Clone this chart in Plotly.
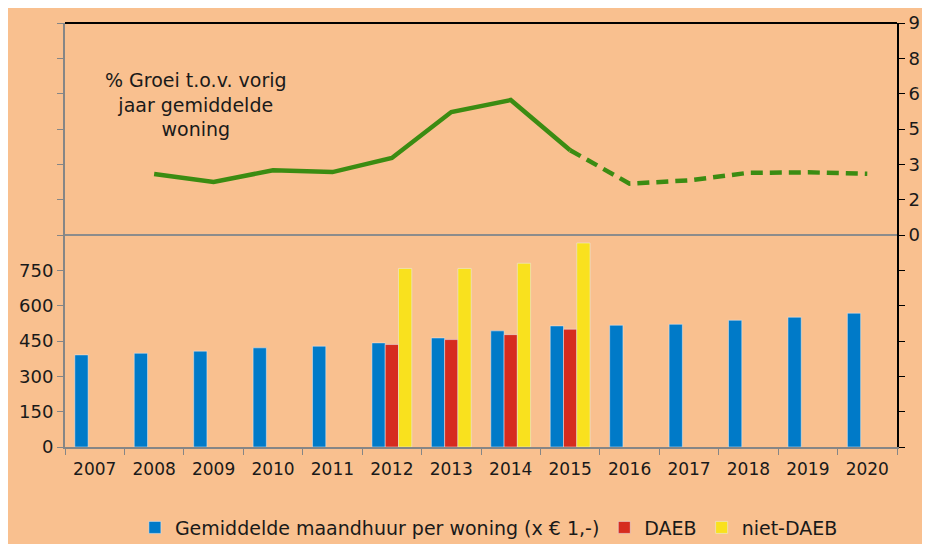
import plotly.graph_objects as go

years = [str(y) for y in range(2007, 2021)]

# gemiddelde maandhuur per woning (x EUR 1,-)
huur_gemiddeld = [391, 398, 407, 421, 428, 442, 463, 493, 514, 517, 521, 538, 551, 568]
huur_daeb = [None, None, None, None, None, 435, 456, 477, 500, None, None, None, None, None]
huur_niet_daeb = [None, None, None, None, None, 758, 758, 780, 866, None, None, None, None, None]

# % groei t.o.v. vorig jaar (realisatie en prognose)
groei_realisatie = [None, 2.59, 2.25, 2.75, 2.67, 3.27, 5.22, 5.73, 3.6, None, None, None, None, None]
groei_prognose = [None, None, None, None, None, None, None, None, 3.6, 2.18, 2.32, 2.64, 2.66, 2.60]

left_ticks = list(range(0, 1801, 150))
left_labels = [str(v) if v <= 750 else "" for v in left_ticks]
right_ticks = [i * 1.5 for i in range(-6, 7)]
right_labels = ["" if v < 0 else str(int(v + 0.5)) for v in right_ticks]

BG = "#F9C08F"
GRAY = "#868686"
GREEN = "#3B8C12"
FONT = "DejaVu Sans"

fig = go.Figure()

fig.add_trace(go.Bar(x=years, y=huur_gemiddeld, name="Gemiddelde maandhuur per woning (x € 1,-)",
                     marker=dict(color="#007AC8")))
fig.add_trace(go.Bar(x=years, y=huur_daeb, name="DAEB", marker=dict(color="#D62B1F")))
fig.add_trace(go.Bar(x=years, y=huur_niet_daeb, name="niet-DAEB", marker=dict(color="#F9E11E")))

fig.add_trace(go.Scatter(x=years, y=groei_realisatie, yaxis="y2", mode="lines", showlegend=False,
                         line=dict(color=GREEN, width=4.5)))
fig.add_trace(go.Scatter(x=years, y=groei_prognose, yaxis="y2", mode="lines", showlegend=False,
                         line=dict(color=GREEN, width=4.5, dash="12px,7px")))

fig.add_annotation(text="% Groei t.o.v. vorig<br>jaar gemiddelde<br>woning", xref="paper", yref="paper",
                   x=0.157, y=0.807, xanchor="center", yanchor="middle", showarrow=False,
                   align="center", font=dict(family=FONT, size=19, color="#1a1a1a"))

# top border of the chart
fig.add_shape(type="line", xref="paper", yref="paper", x0=0, x1=1, y0=1, y1=1,
              line=dict(color="black", width=2))

fig.update_layout(
    width=922, height=536,
    margin=dict(l=57, r=33, t=15, b=97, autoexpand=False),
    paper_bgcolor=BG, plot_bgcolor=BG,
    barmode="group", bargap=0.33, bargroupgap=0,
    font=dict(family=FONT, size=16, color="#1a1a1a"),
    xaxis=dict(type="category", showline=True, linecolor=GRAY, linewidth=2, ticks="outside",
               tickson="boundaries", tickcolor=GRAY, ticklen=6, showgrid=False,
               ticklabelstandoff=6, tickfont=dict(size=17)),
    yaxis=dict(range=[0, 1800], tickvals=left_ticks, ticktext=left_labels, showgrid=False,
               zeroline=False, showline=True, linecolor=GRAY, linewidth=2, ticks="outside",
               tickcolor=GRAY, ticklen=6, tickfont=dict(size=18)),
    yaxis2=dict(range=[-9, 9], overlaying="y", side="right", tickvals=right_ticks,
                ticktext=right_labels, showgrid=False, zeroline=True, zerolinecolor="#8c8c8c",
                zerolinewidth=2, showline=True, linecolor="black", linewidth=2, ticks="outside",
                tickcolor="black", ticklen=6, tickfont=dict(size=18)),
    legend=dict(orientation="h", x=0.084, xanchor="left", y=-0.19, yanchor="middle",
                bgcolor="rgba(0,0,0,0)", font=dict(size=19), itemwidth=30),
)

fig.write_html("out.html")
